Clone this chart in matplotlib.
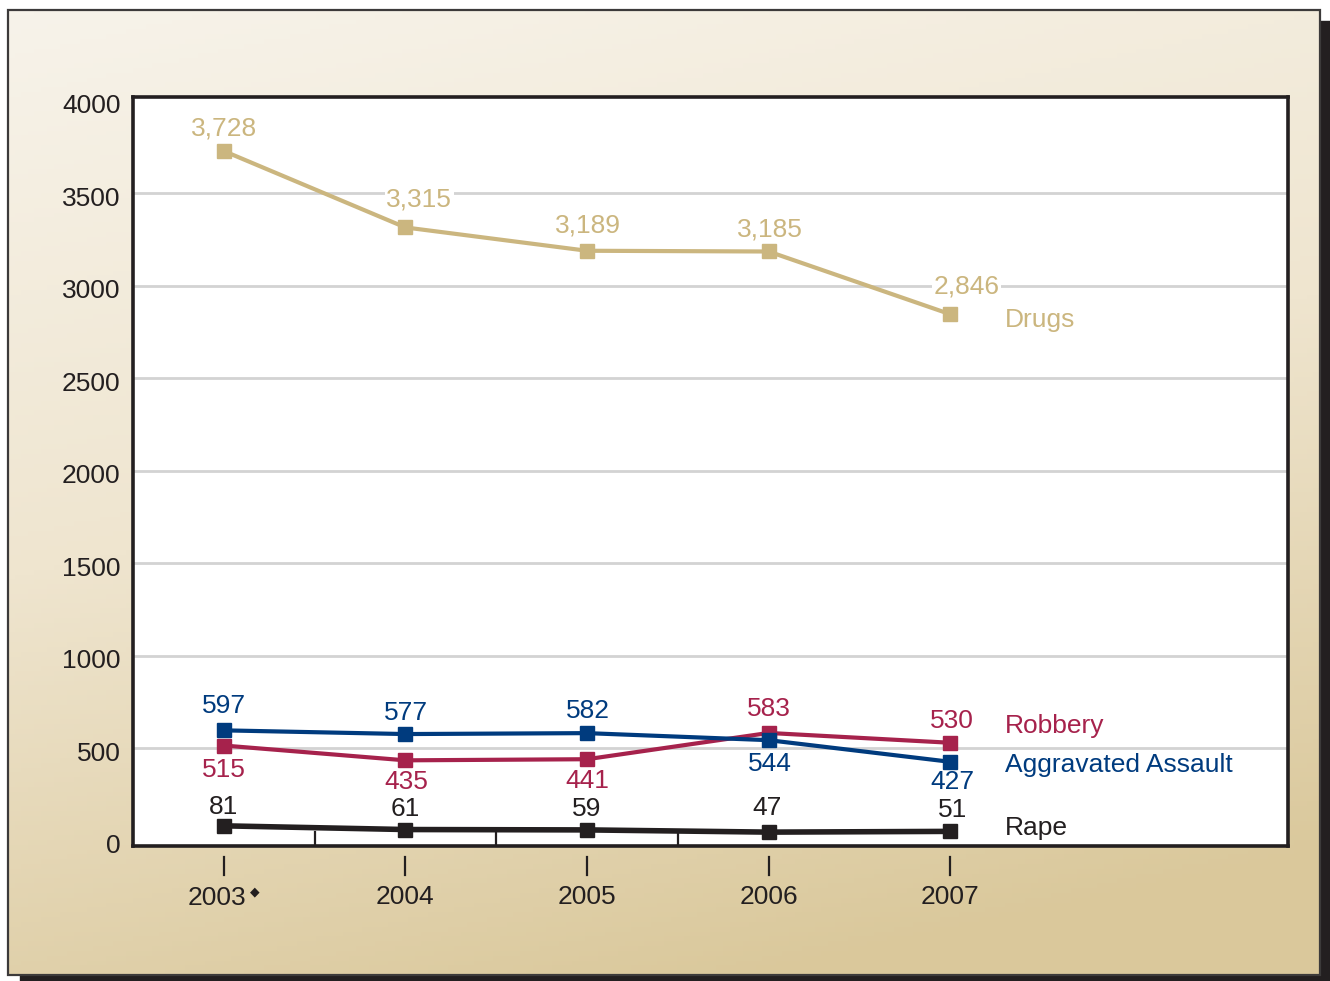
"""
Arrests by offense type, 2003-2007
"""
import numpy as np
import matplotlib
matplotlib.use("Agg")
import matplotlib.pyplot as plt
from matplotlib.patches import Rectangle
from matplotlib.colors import LinearSegmentedColormap
from matplotlib.transforms import ScaledTranslation

plt.rcParams["font.family"] = ["Liberation Sans", "DejaVu Sans"]

# data
YEARS = [2003, 2004, 2005, 2006, 2007]
DRUGS = [3728, 3315, 3189, 3185, 2846]
ROBBERY = [515, 435, 441, 583, 530]
ASSAULT = [597, 577, 582, 544, 427]
RAPE = [81, 61, 59, 47, 51]
SERIES_NAMES = ["Drugs", "Robbery", "Aggravated Assault", "Rape"]
Y_TICKS = [0, 500, 1000, 1500, 2000, 2500, 3000, 3500, 4000]

# label offsets in pixels (layout only)
DRUG_OFF = [(0, 23), (14, 28), (1, 25), (1, 22), (16, 28)]
ROB_OFF = [(0, -24), (1, -22), (0, -22), (0, 24), (2, 22)]
ASLT_OFF = [(0, 24), (1, 21), (1, 22), (1, -24), (2, -20)]
RAPE_OFF = [(0, 19), (0, 21), (0, 21), (-2, 24), (2, 21)]
NAME_OFF = [(55, -6), (55, 17), (55, -3), (55, 3)]

TAN = "#cbb67f"
RED = "#a6224c"
BLUE = "#003b7e"
BLACK = "#231f20"
FS = 19

fig = plt.figure(figsize=(13.3, 9.81), dpi=100)

# background panel with shadow and gradient
bg = fig.add_axes([0, 0, 1, 1])
bg.set_xlim(0, 1330)
bg.set_ylim(981, 0)
bg.axis("off")
bg.add_patch(Rectangle((20, 21), 1310, 960, color=BLACK, zorder=1))
cmap = LinearSegmentedColormap.from_list("bg", ["#f7f3ea", "#efe5cf", "#dac89b"])
yy, xx = np.mgrid[0:1:200j, 0:1:200j]
grad = 0.85 * yy + 0.25 * xx
bg.imshow(grad, cmap=cmap, extent=(8, 1320, 975, 10), aspect="auto",
          vmin=0, vmax=1.0, zorder=2)
bg.add_patch(Rectangle((8, 10), 1312, 965, fill=False, ec="#3c3a3a",
                       lw=1.6, zorder=3))

ax = fig.add_axes([133 / 1330, 1 - 846 / 981, 1155 / 1330, 749 / 981])
ax.set_facecolor("white")
ax.set_xlim(2002.5, 2008.86)
ax.set_ylim(-28, 4020)
for sp in ax.spines.values():
    sp.set_linewidth(2.6)
    sp.set_color(BLACK)

for yv in Y_TICKS[1:-1]:
    ax.axhline(yv, color="#d3d3d3", lw=2, zorder=1)

ax.set_yticks(Y_TICKS)
ax.set_yticklabels([str(v) for v in Y_TICKS], fontsize=FS, color=BLACK)
ax.tick_params(axis="y", length=0, pad=9)
shift = ScaledTranslation(0, -3 / 100, fig.dpi_scale_trans)
for lab in ax.get_yticklabels():
    lab.set_transform(lab.get_transform() + shift)

ax.set_xticks(YEARS)
ax.set_xticklabels([""] + [str(y) for y in YEARS[1:]], fontsize=FS, color=BLACK)
ax.tick_params(axis="x", length=0, pad=28)

# first year label with the diamond marker
trans = ax.get_xaxis_transform()
ax.annotate("2003", (YEARS[0], 0), xycoords=trans, xytext=(-7, -52),
            textcoords="offset pixels", ha="center", va="center",
            fontsize=FS, color=BLACK, annotation_clip=False)
ax.annotate("\u25c6", (YEARS[0], 0), xycoords=trans, xytext=(31, -46),
            textcoords="offset pixels", ha="center", va="center",
            fontsize=9, color=BLACK, annotation_clip=False)

# detached tick marks under the axis
for yr in YEARS:
    ax.plot([yr, yr], [-0.015, -0.039], transform=trans, color=BLACK,
            lw=1.6, clip_on=False)
# small inner ticks between years
for mid in (np.array(YEARS[:3]) + 0.5):
    ax.plot([mid, mid], [0, 0.019], transform=trans, color=BLACK, lw=1.6)

series = [
    (DRUGS, TAN, DRUG_OFF, 3.0, True),
    (ROBBERY, RED, ROB_OFF, 3.0, False),
    (ASSAULT, BLUE, ASLT_OFF, 3.0, False),
    (RAPE, BLACK, RAPE_OFF, 4.0, False),
]

for (vals, col, offs, lw, boxed), name, noff in zip(series, SERIES_NAMES, NAME_OFF):
    ax.plot(YEARS, vals, color=col, lw=lw, marker="s", markersize=10.5,
            zorder=3)
    for x, v, off in zip(YEARS, vals, offs):
        bbox = dict(fc="white", ec="none", pad=1) if boxed else None
        ax.annotate(f"{v:,}", (x, v), xytext=off, textcoords="offset pixels",
                    ha="center", va="center", fontsize=FS, color=col,
                    bbox=bbox, zorder=4)
    ax.annotate(name, (YEARS[-1], vals[-1]), xytext=noff,
                textcoords="offset pixels", ha="left", va="center",
                fontsize=FS, color=col, zorder=4)

plt.savefig("out.png", dpi=100)
